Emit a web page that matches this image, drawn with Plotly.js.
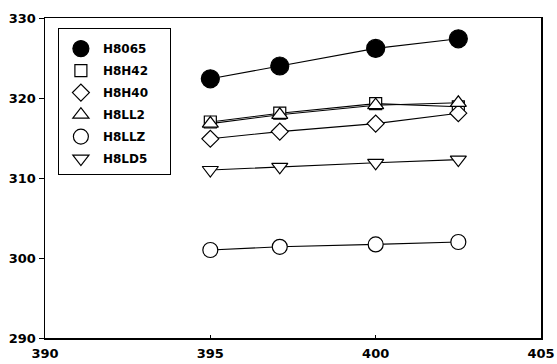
<!DOCTYPE html>
<html>
<head>
<meta charset="utf-8">
<script src="https://cdn.plot.ly/plotly-3.0.1.min.js"></script>
<style>html,body{margin:0;padding:0;background:#fff;}#chart{width:557px;height:364px;}</style>
</head>
<body>
<div id="chart"></div>
<script>
const xVals = [395, 397.1, 400, 402.5];
const seriesNames = ["H8065", "H8H42", "H8H40", "H8LL2", "H8LLZ", "H8LD5"];
const H8065 = [322.4, 324.0, 326.2, 327.4];
const H8H42 = [317.0, 318.1, 319.3, 318.9];
const H8H40 = [314.9, 315.8, 316.8, 318.1];
const H8LL2 = [316.8, 317.9, 319.1, 319.4];
const H8LLZ = [301.0, 301.4, 301.7, 302.0];
const H8LD5 = [311.0, 311.4, 311.9, 312.3];
const xTicks = [390, 395, 400, 405];
const yTicks = [290, 300, 310, 320, 330];

const seriesData = [H8065, H8H42, H8H40, H8LL2, H8LLZ, H8LD5];
const symbols = ["circle", "square", "diamond", "triangle-up", "circle", "triangle-down"];
const fills = ["#000", "#fff", "#fff", "#fff", "#fff", "#fff"];
const sizes = [18, 12, 13, 14, 15, 14];
const pad = "\u00a0\u00a0\u00a0\u00a0";

const lineTraces = seriesNames.map((name, i) => ({
  x: xVals, y: seriesData[i], name: name,
  type: "scatter", mode: "lines", showlegend: false,
  line: {color: "#000", width: 1.1}
}));
const markerTraces = seriesNames.map((name, i) => ({
  x: xVals, y: seriesData[i], name: name + pad, legendgroup: name,
  type: "scatter", mode: "markers",
  marker: {symbol: symbols[i], size: sizes[i], color: fills[i], line: {color: "#000", width: 1.2}}
}));

const tickFont = {family: "DejaVu Sans, sans-serif", size: 13, color: "#000", weight: "bold"};

const layout = {
  width: 557,
  height: 364,
  margin: {l: 45, r: 16, t: 18, b: 26},
  paper_bgcolor: "#fff",
  plot_bgcolor: "#fff",
  showlegend: true,
  legend: {
    x: 0.026, y: 0.969, xanchor: "left", yanchor: "top",
    bordercolor: "#000", borderwidth: 1, bgcolor: "#fff",
    font: {family: "DejaVu Sans, sans-serif", size: 12, color: "#000", weight: "bold"},
    title: {text: " ", font: {size: 4}},
    tracegroupgap: 3,
    itemwidth: 34
  },
  xaxis: {
    range: [390, 405],
    tickvals: xTicks,
    ticktext: xTicks.map(String),
    ticks: "inside", ticklen: 3, tickcolor: "#000",
    showline: true, linecolor: "#000", linewidth: 1.5, mirror: true,
    showgrid: false, zeroline: false,
    tickfont: tickFont, ticklabelstandoff: 3
  },
  yaxis: {
    range: [290, 330],
    tickvals: yTicks,
    ticktext: yTicks.map(String),
    ticks: "outside", ticklen: 5, tickcolor: "#000",
    showline: true, linecolor: "#000", linewidth: 1.5, mirror: true,
    showgrid: false, zeroline: false,
    tickfont: tickFont
  }
};

Plotly.newPlot("chart", lineTraces.concat(markerTraces), layout, {displayModeBar: false, staticPlot: true});
</script>
</body>
</html>
